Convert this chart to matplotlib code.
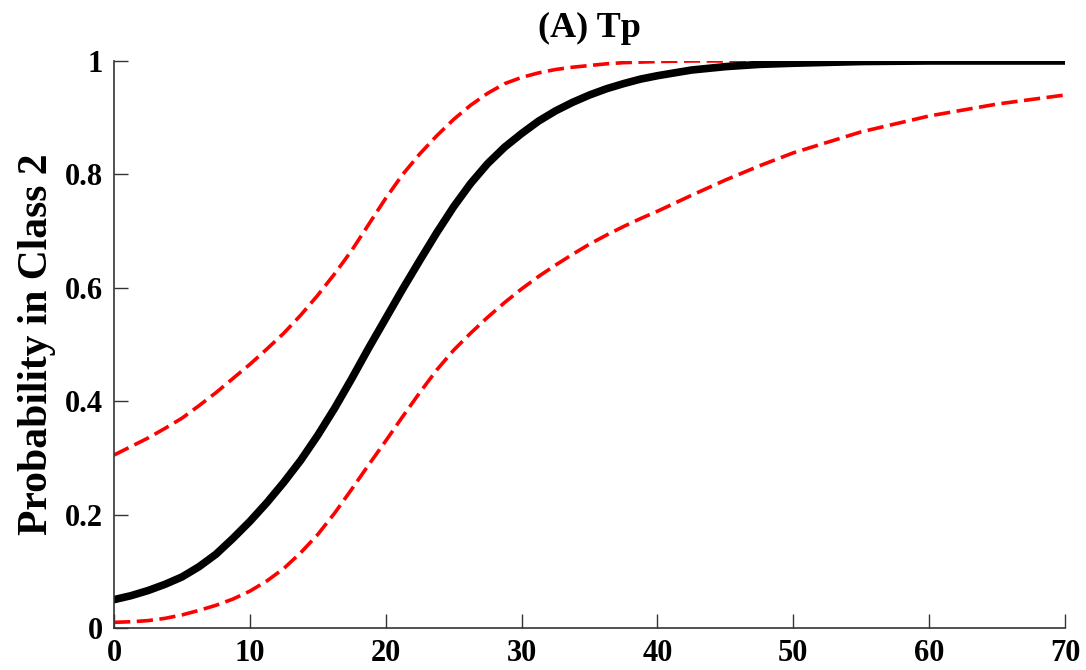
import matplotlib
matplotlib.use('Agg')
import matplotlib.pyplot as plt
from matplotlib.ticker import FuncFormatter

plt.rcParams.update({'font.family': 'Liberation Serif', 'font.weight': 'bold'})

x = [0, 1.25, 2.5, 3.75, 5, 6.25, 7.5, 8.75, 10, 11.25, 12.5, 13.75, 15, 16.25, 17.5, 18.75,
     20, 21.25, 22.5, 23.75, 25, 26.25, 27.5, 28.75, 30, 31.25, 32.5, 33.75, 35, 36.25, 37.5, 38.75,
     40, 42.5, 45, 47.5, 50, 55, 60, 65, 70]
prob = [0.05, 0.057, 0.066, 0.077, 0.09, 0.108, 0.13, 0.158, 0.188, 0.221, 0.257, 0.296, 0.34, 0.388,
        0.44, 0.494, 0.546, 0.598, 0.648, 0.697, 0.743, 0.784, 0.819, 0.848, 0.872, 0.894, 0.912, 0.927,
        0.94, 0.951, 0.96, 0.968, 0.974, 0.984, 0.99, 0.994, 0.996, 0.999, 1.0, 1.0, 1.0]
upper = [0.305, 0.32, 0.335, 0.352, 0.37, 0.392, 0.415, 0.44, 0.465, 0.492, 0.52, 0.552, 0.587, 0.625,
         0.666, 0.712, 0.758, 0.8, 0.836, 0.868, 0.897, 0.922, 0.943, 0.96, 0.971, 0.979, 0.985, 0.989,
         0.992, 0.995, 0.997, 0.998, 0.999, 1.0, 1.0, 1.0, 1.0, 1.0, 1.0, 1.0, 1.0]
lower = [0.01, 0.011, 0.013, 0.017, 0.023, 0.031, 0.04, 0.051, 0.065, 0.083, 0.105, 0.133, 0.165, 0.203,
         0.245, 0.288, 0.33, 0.373, 0.415, 0.455, 0.49, 0.52, 0.548, 0.574, 0.598, 0.62, 0.64, 0.659,
         0.677, 0.693, 0.708, 0.722, 0.735, 0.763, 0.79, 0.815, 0.838, 0.875, 0.903, 0.924, 0.94]
xticks = [0, 10, 20, 30, 40, 50, 60, 70]
yticks = [0, 0.2, 0.4, 0.6, 0.8, 1]

fig = plt.figure(figsize=(10.86, 6.70), dpi=100)
ax = fig.add_axes([0.105, 0.0627, 0.8757, 0.8463])
ax.plot(x, upper, color='#ff0000', lw=2.6, ls=(0, (4.5, 1.8)))
ax.plot(x, lower, color='#ff0000', lw=2.6, ls=(0, (4.5, 1.8)))
ax.plot(x, prob, color='black', lw=5.5, solid_capstyle='round')

ax.set_xlim(0, 70)
ax.set_ylim(0, 1)
ax.set_xticks(xticks)
ax.set_yticks(yticks)
ax.yaxis.set_major_formatter(FuncFormatter(lambda v, p: f'{v:g}'))
ax.tick_params(direction='in', length=10, width=1, color='#333333', labelsize=22, pad=8)
for s in ['top', 'right']:
    ax.spines[s].set_visible(False)
for s in ['left', 'bottom']:
    ax.spines[s].set_color('#333333')
    ax.spines[s].set_linewidth(1.2)

ax.set_ylabel('Probability in Class 2', fontsize=30, fontweight='bold', labelpad=6)
ax.set_title('(A) Tp', fontsize=26, fontweight='bold', pad=17)

fig.savefig('out.png', dpi=100)
